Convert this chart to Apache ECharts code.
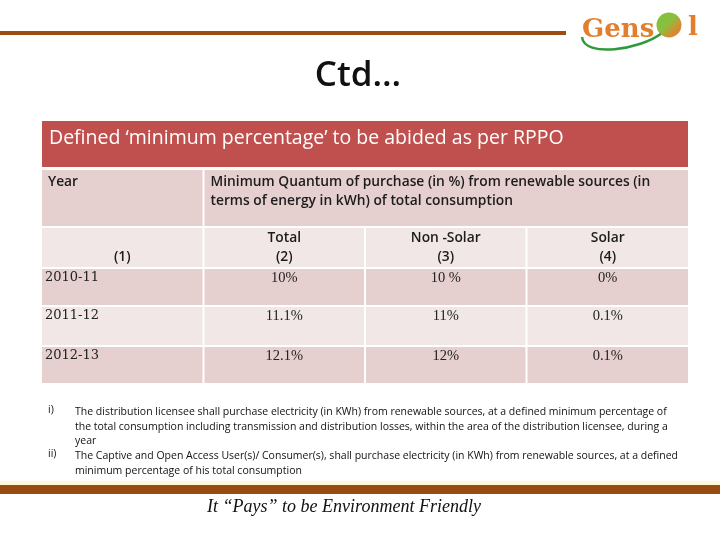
<!DOCTYPE html>
<html><head><meta charset="utf-8">
<script src="https://cdn.jsdelivr.net/npm/echarts@6/dist/echarts.min.js"></script>
<style>html,body{margin:0;padding:0;background:#fff}#c{width:720px;height:540px}</style>
</head><body><div id="c"></div>
<script>
// ---- data ----
var slideTitle = 'Ctd…';
var tableTitle = 'Defined \u2018minimum percentage\u2019 to be abided as per RPPO';
var yearHeader = 'Year';
var quantumHeader = 'Minimum Quantum of purchase (in %) from renewable sources (in\nterms of energy in kWh) of total consumption';
var colHeaders = ['(1)', 'Total\n(2)', 'Non -Solar\n(3)', 'Solar\n(4)'];
var years = ['2010-11', '2011-12', '2012-13'];
var totalPct = ['10%', '11.1%', '12.1%'];
var nonSolarPct = ['10 %', '11%', '12%'];
var solarPct = ['0%', '0.1%', '0.1%'];
var notes = [
  ['i)', 'The distribution licensee shall purchase electricity (in KWh) from renewable sources, at a defined minimum percentage of\nthe total consumption including transmission and distribution losses, within the area of the distribution licensee, during a\nyear'],
  ['ii)', 'The Captive and Open Access User(s)/ Consumer(s), shall purchase electricity (in KWh) from renewable sources, at a defined\nminimum percentage of his total consumption']
];
var footer = 'It \u201cPays\u201d to be Environment Friendly';

// ---- layout (pixel rows of the table) ----
var rowTop =    [121, 170, 228, 269, 307, 347];
var rowBottom = [167, 226, 267, 305, 345, 383];
var rowFill = ['#C0504D', '#E6CFCF', '#F1E7E7', '#E6CFCF', '#F1E7E7', '#E6CFCF'];

// build cells: [colStart, colEnd, row, text, kind]
var cells = [];
cells.push([0, 4, 0, tableTitle, 'title']);
cells.push([0, 1, 1, yearHeader, 'hdrL']);
cells.push([1, 4, 1, quantumHeader, 'hdrL']);
colHeaders.forEach(function (t, i) { cells.push([i, i + 1, 2, t, i === 0 ? 'sub1' : 'sub']); });
years.forEach(function (y, r) {
  cells.push([0, 1, 3 + r, y, 'year']);
  cells.push([1, 2, 3 + r, totalPct[r], 'val']);
  cells.push([2, 3, 3 + r, nonSolarPct[r], 'val']);
  cells.push([3, 4, 3 + r, solarPct[r], 'val']);
});

var SANS = '"Open Sans", "Noto Sans", sans-serif';
var SERIF = '"Liberation Serif", "DejaVu Serif", serif';

function renderCell(params, api) {
  var c0 = api.value(0), c1 = api.value(1), r = api.value(2);
  var cell = cells[params.dataIndex];
  var p0 = api.coord([c0, rowTop[r]]);
  var p1 = api.coord([c1, rowBottom[r]]);
  var x = p0[0] + (c0 > 0 ? 1 : 0), y = p0[1];
  var w = p1[0] - p0[0] - (c0 > 0 ? 1 : 0) - (c1 < 4 ? 1 : 0), h = p1[1] - p0[1];
  var kind = cell[4], txt = cell[3];
  var ts;
  if (kind === 'title') {
    ts = { text: txt, x: x + 7, y: y + 17, verticalAlign: 'middle', fill: '#fff', font: '19.5px ' + SANS };
  } else if (kind === 'hdrL') {
    ts = { text: txt, x: x + 6, y: y + 3, verticalAlign: 'top', fill: '#1c1c1c', font: '600 13.8px ' + SANS, lineHeight: 19 };
  } else if (kind === 'sub') {
    ts = { text: txt, x: x + w / 2, y: y + 1, align: 'center', verticalAlign: 'top', fill: '#1c1c1c', font: '600 13.8px ' + SANS, lineHeight: 19 };
  } else if (kind === 'sub1') {
    ts = { text: txt, x: x + w / 2, y: y + 20, align: 'center', verticalAlign: 'top', fill: '#1c1c1c', font: '600 13.8px ' + SANS, lineHeight: 19 };
  } else if (kind === 'year') {
    ts = { text: txt, x: x + 3, y: y + 9, verticalAlign: 'middle', fill: '#222', font: '13px "DejaVu Serif", serif' };
  } else {
    ts = { text: txt, x: x + w / 2, y: y + 9, align: 'center', verticalAlign: 'middle', fill: '#222', font: '14.5px ' + SERIF };
  }
  return {
    type: 'group',
    children: [
      { type: 'rect', shape: { x: x, y: y, width: w, height: h }, style: { fill: rowFill[r] } },
      { type: 'text', style: ts }
    ]
  };
}

var chart = echarts.init(document.getElementById('c'), null, { renderer: 'canvas' });
var graphics = [
  { type: 'rect', shape: { x: 0, y: 31, width: 566, height: 4 }, style: { fill: '#9A4E14' } },
  // logo
  { type: 'bezierCurve', shape: { x1: 582, y1: 37, x2: 662, y2: 33, cpx1: 584, cpy1: 58, cpx2: 640, cpy2: 50 }, style: { stroke: '#2E9A3C', lineWidth: 2.5, fill: null } },
  { type: 'text', style: { text: 'Gens', x: 582, y: 30, verticalAlign: 'middle', fill: '#E27F2E', font: 'bold 26px "DejaVu Serif", serif' } },
  { type: 'circle', shape: { cx: 669, cy: 25, r: 12.5 }, style: { fill: new echarts.graphic.LinearGradient(0, 0, 1, 1, [{ offset: 0, color: '#7CC243' }, { offset: 0.45, color: '#8BBE3E' }, { offset: 0.75, color: '#D98A33' }, { offset: 1, color: '#E27F2E' }]) } },
  { type: 'text', style: { text: 'l', x: 688, y: 28, verticalAlign: 'middle', fill: '#E27F2E', font: 'bold 26px "DejaVu Serif", serif' } },
  // slide title
  { type: 'text', style: { text: slideTitle, x: 358, y: 76, align: 'center', verticalAlign: 'middle', fill: '#111', font: '600 35px ' + SANS } },
  // bottom bar
  { type: 'rect', shape: { x: 0, y: 481, width: 720, height: 4 }, style: { fill: '#FFF7DA' } },
  { type: 'rect', shape: { x: 0, y: 485, width: 720, height: 9 }, style: { fill: '#974C11' } },
  { type: 'text', style: { text: footer, x: 344, y: 507, align: 'center', verticalAlign: 'middle', fill: '#111', font: 'italic 18px ' + SERIF } }
];
notes.forEach(function (n, i) {
  var top = i === 0 ? 405 : 449;
  graphics.push({ type: 'text', style: { text: n[0], x: 48, y: top, verticalAlign: 'top', fill: '#111', font: '10.5px ' + SANS } });
  graphics.push({ type: 'text', style: { text: n[1], x: 75, y: top, verticalAlign: 'top', fill: '#111', font: '10.5px ' + SANS, lineHeight: 14.5 } });
});

chart.setOption({
  animation: false,
  backgroundColor: '#fff',
  grid: { left: 42, right: 32, top: rowTop[0], bottom: 540 - rowBottom[rowBottom.length - 1] },
  xAxis: { type: 'value', min: 0, max: 4, show: false },
  yAxis: { type: 'value', min: rowTop[0], max: rowBottom[rowBottom.length - 1], inverse: true, show: false },
  series: [{
    type: 'custom',
    renderItem: renderCell,
    data: cells.map(function (c) { return [c[0], c[1], c[2]]; }),
    silent: true
  }],
  graphic: graphics
});
</script></body></html>
